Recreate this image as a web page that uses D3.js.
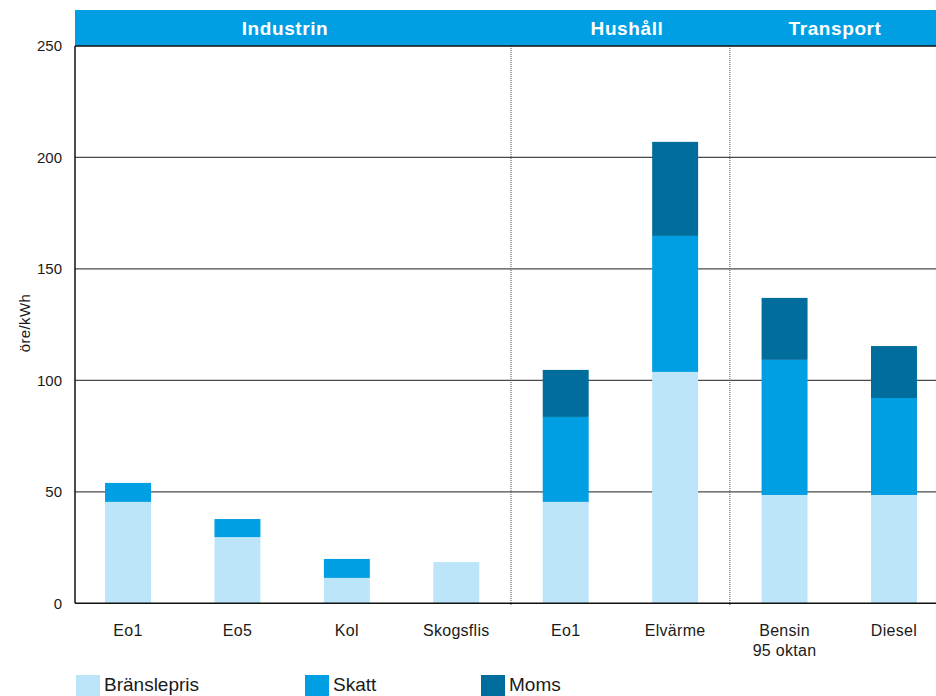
<!DOCTYPE html>
<html>
<head>
<meta charset="utf-8">
<script src="https://cdn.jsdelivr.net/npm/d3@7"></script>
<style>
  html, body { margin: 0; padding: 0; background: #fff; overflow: hidden; }
  svg { display: block; font-family: "Liberation Sans", Arial, Helvetica, sans-serif; }
</style>
</head>
<body>
<svg id="chart" width="936" height="696"></svg>
<script>
// Fuel price components, öre/kWh
const categories = ["Eo1", "Eo5", "Kol", "Skogsflis", "Eo1", "Elvärme", "Bensin\n95 oktan", "Diesel"];
const branslepris = [45.5, 29.7, 11.4, 18.5, 45.5, 103.8, 48.6, 48.6];
const skatt       = [8.5, 8.1, 8.5, 0, 38.1, 61.0, 60.6, 43.5];
const moms        = [0, 0, 0, 0, 21.1, 42.2, 27.8, 23.3];
const seriesNames = ["Bränslepris", "Skatt", "Moms"];
const seriesColors = ["#bde5f9", "#009fe3", "#006d9c"];
const sectors = ["Industrin", "Hushåll", "Transport"];
const sectorStart = [0, 4, 6];   // index of first category in each sector
const yTicks = [0, 50, 100, 150, 200, 250];

const svg = d3.select("#chart");
const plotLeft = 75, plotTop = 46, plotBottom = 603.3;
const headerTop = 10;

const ids = categories.map((c, i) => i);
const x = d3.scaleBand()
  .domain(ids)
  .range([73.3, 948.7])
  .paddingInner(0.58)
  .paddingOuter(0.29);
const y = d3.scaleLinear().domain([0, 250]).range([plotBottom, plotTop]);

const rows = ids.map(i => ({ i, "Bränslepris": branslepris[i], "Skatt": skatt[i], "Moms": moms[i] }));
const stacked = d3.stack().keys(seriesNames)(rows);

// header band
svg.append("rect")
  .attr("x", plotLeft).attr("y", headerTop)
  .attr("width", 936 - plotLeft).attr("height", plotTop - headerTop)
  .attr("fill", "#009fe3");

// grid lines
svg.append("g")
  .selectAll("line")
  .data(yTicks.filter(t => t > 0 && t < 250))
  .join("line")
  .attr("x1", plotLeft).attr("x2", 936)
  .attr("y1", d => y(d)).attr("y2", d => y(d))
  .attr("stroke", "#4a4a4a").attr("stroke-width", 1.3);

// sector separators
const step = x.step();
const sepX = sectorStart.slice(1).map(i => x(i) - step * x.paddingInner() / 2);
svg.append("g")
  .selectAll("line")
  .data(sepX)
  .join("line")
  .attr("x1", d => d).attr("x2", d => d)
  .attr("y1", plotTop).attr("y2", plotBottom + 2)
  .attr("stroke", "#555").attr("stroke-width", 1)
  .attr("stroke-dasharray", "1,1");

// bars
svg.append("g")
  .selectAll("g")
  .data(stacked)
  .join("g")
  .attr("fill", (d, k) => seriesColors[k])
  .selectAll("rect")
  .data(d => d.filter(s => s[1] - s[0] > 0))
  .join("rect")
  .attr("x", d => x(d.data.i))
  .attr("width", x.bandwidth())
  .attr("y", d => y(d[1]))
  .attr("height", d => y(d[0]) - y(d[1]));

// axes frame
svg.append("line")
  .attr("x1", plotLeft).attr("x2", plotLeft).attr("y1", plotTop).attr("y2", plotBottom)
  .attr("stroke", "#111").attr("stroke-width", 1.5);
svg.append("line")
  .attr("x1", plotLeft).attr("x2", 936).attr("y1", plotBottom).attr("y2", plotBottom)
  .attr("stroke", "#111").attr("stroke-width", 1.5);
svg.append("line")
  .attr("x1", plotLeft).attr("x2", 936).attr("y1", plotTop).attr("y2", plotTop)
  .attr("stroke", "#111").attr("stroke-width", 1.5);

// y tick labels
const yAxis = d3.axisLeft(y).tickValues(yTicks).tickSize(0).tickPadding(13);
svg.append("g")
  .attr("transform", `translate(${plotLeft},0)`)
  .call(yAxis)
  .call(g => g.select(".domain").remove())
  .call(g => g.selectAll("text")
    .attr("font-size", 15).attr("fill", "#1a1a1a")
    .attr("font-family", "Liberation Sans, Arial, sans-serif"));

// y title
svg.append("text")
  .attr("transform", "translate(30,323) rotate(-90)")
  .attr("text-anchor", "middle")
  .attr("font-size", 15)
  .attr("letter-spacing", 0.4)
  .attr("fill", "#1a1a1a")
  .text("öre/kWh");

// x labels
const xl = svg.append("g");
ids.forEach(i => {
  const t = xl.append("text")
    .attr("x", x(i) + x.bandwidth() / 2)
    .attr("y", 636)
    .attr("text-anchor", "middle")
    .attr("font-size", 16)
    .attr("letter-spacing", 0.3)
    .attr("fill", "#1a1a1a");
  categories[i].split("\n").forEach((line, k) => {
    t.append("tspan")
      .attr("x", x(i) + x.bandwidth() / 2)
      .attr("dy", k === 0 ? 0 : 20)
      .text(line);
  });
});

// sector headers
const headerCx = [285, 627, 835];
svg.append("g")
  .selectAll("text")
  .data(sectors)
  .join("text")
  .attr("x", (d, k) => headerCx[k])
  .attr("y", 35)
  .attr("text-anchor", "middle")
  .attr("font-size", 19)
  .attr("font-weight", "bold")
  .attr("letter-spacing", 0.6)
  .attr("fill", "#fff")
  .text(d => d);

// legend
const legendX = [76, 305, 481];
const lg = svg.append("g");
seriesNames.forEach((name, k) => {
  lg.append("rect")
    .attr("x", legendX[k]).attr("y", 675)
    .attr("width", 24).attr("height", 21)
    .attr("fill", seriesColors[k]);
  lg.append("text")
    .attr("x", legendX[k] + 28).attr("y", 691)
    .attr("font-size", 19)
    .attr("fill", "#1a1a1a")
    .text(name);
});
</script>
</body>
</html>
